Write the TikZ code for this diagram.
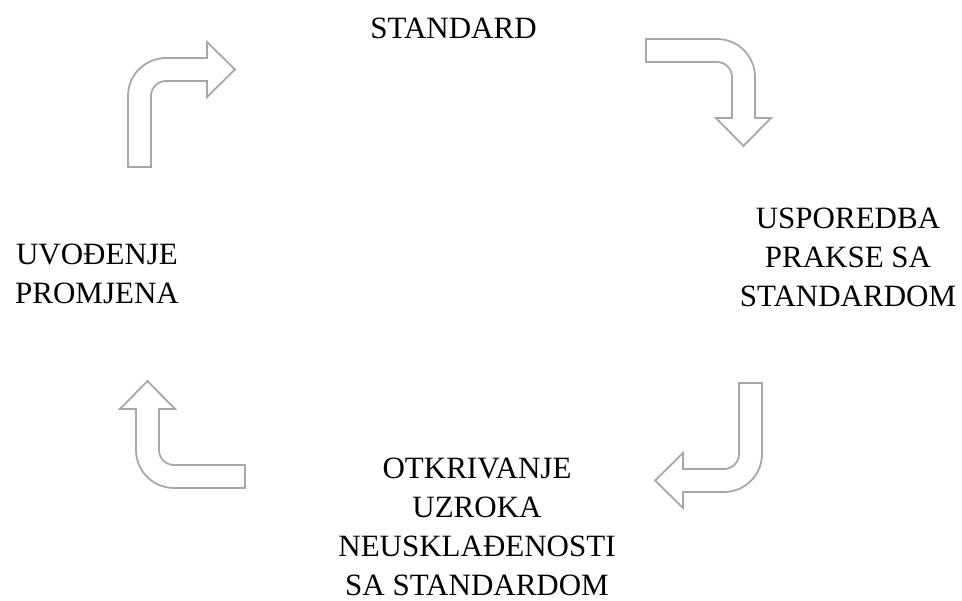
\documentclass[tikz,border=0pt]{standalone}
\usepackage{fontspec}
\setmainfont{Liberation Serif}
\definecolor{arrowgray}{RGB}{168,168,168}
\tikzset{x=1pt, y=1pt, % One unit is one pixel of the layout
        every node/.style={ % Sets the properties for each label
            inner sep=0pt,
            anchor=north,
            align=center,
            font=\fontsize{31}{39}\selectfont},
        arrowline/.style={ % Outline of the hollow bent arrows
            draw=arrowgray,
            line width=1.8pt,
            line join=miter,
            fill=white},
        bendarrow/.pic={ % Shaft going up, then turning right
            \draw[arrowline] (0,0) -- (0,71)
                arc[start angle=180, end angle=90, radius=38]
                -- (79,109) -- (79,125) -- (107,97.5) -- (79,70) -- (79,86) -- (38,86)
                arc[start angle=90, end angle=180, radius=15]
                -- (23,0) -- cycle;
            }
        }

\begin{document}
\begin{tikzpicture}
    \useasboundingbox[fill=white] (0,0) rectangle (962,-601);

    \node (standard) at (453.5,-17.7) {STANDARD};
    \node (usporedba) at (848,-207.7) {USPOREDBA\\PRAKSE SA\\STANDARDOM};
    \node (otkrivanje) at (477,-457.7) {OTKRIVANJE\\UZROKA\\NEUSKLAĐENOSTI\\SA STANDARDOM};
    \node (uvodjenje) at (97,-243.7) {UVOĐENJE\\PROMJENA};

    \pic at (128,-167) {bendarrow};
    \pic[rotate=-90] at (646,-39) {bendarrow};
    \pic[rotate=180] at (762,-383) {bendarrow};
    \pic[rotate=90] at (245,-488) {bendarrow};
\end{tikzpicture}
\end{document}
